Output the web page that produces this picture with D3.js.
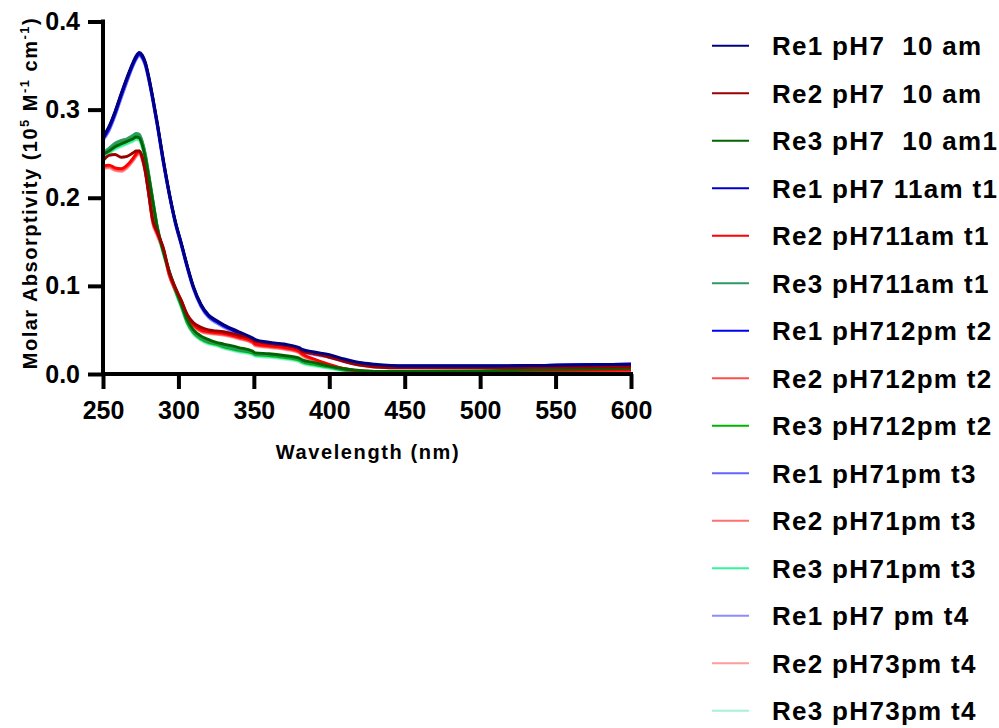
<!DOCTYPE html>
<html>
<head>
<meta charset="utf-8">
<script src="https://cdn.jsdelivr.net/npm/d3@7"></script>
<style>
  html, body { margin: 0; padding: 0; background: #fff; }
  svg { display: block; font-family: "Liberation Sans", Arial, Helvetica, sans-serif; }
</style>
</head>
<body>
<svg id="chart" width="999" height="728"></svg>
<script>
// Wavelength grid (nm)
const wavelengths = [250,254,258,262,266,270,272,274,276,278,280,283,286,290,294,298,302,306,310,315,320,325,330,340,349,351,360,370,380,382,390,400,410,420,430,450,500,550,600];

// Molar absorptivity (10^5 M^-1 cm^-1) for each run
const re1_10am   = [0.269,0.281,0.298,0.318,0.337,0.354,0.361,0.365,0.362,0.354,0.340,0.314,0.285,0.243,0.205,0.173,0.148,0.122,0.099,0.079,0.067,0.061,0.056,0.048,0.041,0.039,0.036,0.034,0.030,0.028,0.025,0.022,0.017,0.013,0.011,0.009,0.009,0.010,0.011];
const re2_10am   = [0.242,0.248,0.249,0.246,0.247,0.251,0.253,0.253,0.246,0.230,0.208,0.175,0.161,0.143,0.115,0.098,0.083,0.067,0.058,0.053,0.050,0.049,0.048,0.044,0.040,0.037,0.035,0.033,0.029,0.026,0.023,0.019,0.014,0.010,0.008,0.007,0.007,0.0075,0.0083];
const re3_10am   = [0.249,0.253,0.258,0.261,0.264,0.267,0.269,0.268,0.260,0.246,0.227,0.196,0.166,0.139,0.116,0.097,0.079,0.061,0.050,0.043,0.039,0.036,0.034,0.030,0.026,0.024,0.023,0.021,0.018,0.016,0.013,0.009,0.006,0.004,0.003,0.003,0.0035,0.005,0.0065];
const re1_11am   = [0.268,0.280,0.297,0.317,0.336,0.353,0.360,0.364,0.361,0.353,0.339,0.313,0.284,0.242,0.204,0.172,0.147,0.121,0.098,0.078,0.066,0.060,0.055,0.047,0.040,0.038,0.035,0.033,0.029,0.027,0.024,0.021,0.016,0.012,0.010,0.009,0.009,0.010,0.011];
const re2_11am   = [0.236,0.237,0.234,0.233,0.237,0.245,0.250,0.253,0.246,0.232,0.210,0.174,0.160,0.142,0.113,0.096,0.083,0.064,0.056,0.050,0.048,0.047,0.046,0.042,0.037,0.034,0.032,0.030,0.026,0.023,0.017,0.011,0.006,0.0035,0.003,0.003,0.003,0.004,0.0045];
const re3_11am   = [0.251,0.256,0.262,0.265,0.267,0.271,0.273,0.272,0.264,0.250,0.230,0.198,0.167,0.140,0.116,0.096,0.078,0.059,0.048,0.041,0.037,0.035,0.032,0.028,0.025,0.023,0.022,0.020,0.017,0.015,0.012,0.0085,0.005,0.003,0.0025,0.0025,0.003,0.0045,0.006];
const re1_12pm   = [0.267,0.279,0.296,0.316,0.335,0.352,0.359,0.363,0.360,0.352,0.338,0.312,0.283,0.241,0.204,0.172,0.147,0.121,0.098,0.078,0.066,0.060,0.055,0.047,0.040,0.038,0.035,0.033,0.029,0.027,0.024,0.021,0.016,0.012,0.010,0.009,0.009,0.010,0.011];
const re2_12pm   = [0.235,0.236,0.233,0.232,0.236,0.244,0.249,0.252,0.245,0.231,0.209,0.173,0.159,0.141,0.112,0.095,0.082,0.063,0.055,0.049,0.047,0.046,0.045,0.041,0.036,0.033,0.031,0.029,0.025,0.022,0.016,0.010,0.006,0.0035,0.003,0.003,0.003,0.004,0.0045];
const re3_12pm   = [0.250,0.255,0.261,0.264,0.266,0.270,0.272,0.271,0.263,0.249,0.229,0.197,0.166,0.139,0.115,0.095,0.077,0.058,0.047,0.040,0.036,0.034,0.031,0.027,0.024,0.022,0.021,0.019,0.016,0.014,0.011,0.008,0.0045,0.0028,0.0025,0.0025,0.003,0.0045,0.006];
const re1_1pm    = [0.266,0.277,0.294,0.314,0.333,0.351,0.358,0.362,0.359,0.351,0.337,0.311,0.282,0.240,0.203,0.171,0.146,0.120,0.097,0.077,0.065,0.059,0.054,0.046,0.039,0.037,0.034,0.032,0.028,0.026,0.023,0.020,0.015,0.011,0.009,0.008,0.008,0.009,0.010];
const re2_1pm    = [0.234,0.235,0.232,0.231,0.235,0.243,0.248,0.251,0.244,0.230,0.208,0.172,0.158,0.140,0.112,0.095,0.081,0.063,0.055,0.049,0.047,0.046,0.045,0.041,0.036,0.033,0.031,0.029,0.025,0.022,0.016,0.010,0.005,0.003,0.0025,0.0025,0.003,0.0035,0.004];
const re3_1pm    = [0.246,0.251,0.256,0.259,0.262,0.265,0.267,0.266,0.258,0.244,0.225,0.194,0.164,0.137,0.114,0.094,0.076,0.057,0.046,0.039,0.035,0.033,0.030,0.026,0.023,0.021,0.020,0.018,0.015,0.013,0.010,0.007,0.004,0.0025,0.002,0.002,0.0025,0.004,0.0055];
const re1_3pm    = [0.265,0.276,0.293,0.313,0.332,0.350,0.357,0.361,0.358,0.350,0.336,0.310,0.281,0.239,0.202,0.170,0.145,0.119,0.096,0.076,0.064,0.058,0.053,0.045,0.038,0.036,0.033,0.031,0.027,0.025,0.022,0.019,0.014,0.010,0.008,0.007,0.007,0.008,0.009];
const re2_3pm    = [0.233,0.234,0.231,0.230,0.234,0.242,0.247,0.250,0.243,0.229,0.207,0.171,0.157,0.139,0.111,0.094,0.080,0.062,0.054,0.048,0.046,0.045,0.044,0.040,0.035,0.032,0.030,0.028,0.024,0.021,0.015,0.009,0.005,0.003,0.0025,0.0025,0.003,0.0035,0.004];
const re3_3pm    = [0.245,0.250,0.255,0.258,0.261,0.264,0.266,0.265,0.257,0.243,0.224,0.193,0.163,0.136,0.113,0.093,0.075,0.056,0.045,0.038,0.034,0.032,0.029,0.025,0.022,0.020,0.019,0.017,0.014,0.012,0.009,0.0065,0.0035,0.002,0.0018,0.0018,0.0025,0.004,0.005];

// Legend labels, in legend order
const seriesNames = [
  "Re1 pH7  10 am", "Re2 pH7  10 am", "Re3 pH7  10 am1",
  "Re1 pH7 11am t1", "Re2 pH711am t1", "Re3 pH711am t1",
  "Re1 pH712pm t2", "Re2 pH712pm t2", "Re3 pH712pm t2",
  "Re1 pH71pm t3", "Re2 pH71pm t3", "Re3 pH71pm t3",
  "Re1 pH7 pm t4", "Re2 pH73pm t4", "Re3 pH73pm t4"
];
const seriesValues = [
  re1_10am, re2_10am, re3_10am,
  re1_11am, re2_11am, re3_11am,
  re1_12pm, re2_12pm, re3_12pm,
  re1_1pm, re2_1pm, re3_1pm,
  re1_3pm, re2_3pm, re3_3pm
];
const seriesColors = [
  "#000080", "#9B0000", "#006400",
  "#0000CC", "#FF0000", "#2E9A66",
  "#0000F0", "#FF4D4D", "#00B400",
  "#6464FF", "#FF7070", "#33F59A",
  "#8C8CFF", "#FF9C9C", "#A8F0D6"
];

const xTicks = [250, 300, 350, 400, 450, 500, 550, 600];
const yTicks = [0.0, 0.1, 0.2, 0.3, 0.4];

const svg = d3.select("#chart");

const x = d3.scaleLinear().domain([250, 600]).range([103, 631]);
const y = d3.scaleLinear().domain([0, 0.4]).range([374, 21.5]);

const series = seriesNames.map((name, i) => ({
  name,
  color: seriesColors[i],
  points: wavelengths.map((w, j) => ({ w, v: seriesValues[i][j] }))
}));

const line = d3.line()
  .x(d => x(d.w))
  .y(d => y(d.v))
  .curve(d3.curveMonotoneX);

// Spectra: later runs underneath, first runs on top
svg.append("g")
  .selectAll("path")
  .data(series.slice().reverse())
  .join("path")
  .attr("d", d => line(d.points))
  .attr("fill", "none")
  .attr("stroke", d => d.color)
  .attr("stroke-width", 2.9)
  .attr("stroke-linejoin", "round");

// Axes
const xAxis = svg.append("g")
  .attr("transform", `translate(0,${y(0)})`)
  .call(d3.axisBottom(x).tickValues(xTicks).tickFormat(d3.format("d"))
    .tickSize(15).tickSizeOuter(0).tickPadding(12));

const yAxis = svg.append("g")
  .attr("transform", `translate(${x(250)},0)`)
  .call(d3.axisLeft(y).tickValues(yTicks).tickFormat(d3.format(".1f"))
    .tickSize(15).tickSizeOuter(0).tickPadding(8));

[xAxis, yAxis].forEach(g => {
  g.select(".domain").attr("stroke", "#000").attr("stroke-width", 4);
  g.selectAll(".tick line").attr("stroke", "#000").attr("stroke-width", 4);
  g.selectAll(".tick text")
    .attr("fill", "#000")
    .style("font-size", "25px")
    .style("font-weight", "bold")
    .style("font-family", "'Liberation Sans', Arial, sans-serif");
});
// Extend domain lines so the corner is squared off
xAxis.select(".domain").attr("d", `M${x(250) - 2},0H${x(600) + 2}`);
yAxis.select(".domain").attr("d", `M0,${y(0) + 2}V${y(0.4) - 2}`);

// Axis titles
svg.append("text")
  .attr("x", 368)
  .attr("y", 459)
  .attr("text-anchor", "middle")
  .style("font-size", "20px")
  .style("font-weight", "bold")
  .style("letter-spacing", "1.6px")
  .text("Wavelength (nm)");

const yTitle = svg.append("text")
  .attr("transform", "translate(37,193) rotate(-90)")
  .attr("text-anchor", "middle")
  .style("font-size", "20px")
  .style("font-weight", "bold")
  .style("letter-spacing", "1.5px");
yTitle.append("tspan").text("Molar Absorptivity (10");
yTitle.append("tspan").attr("dy", -8).style("font-size", "13px").text("5");
yTitle.append("tspan").attr("dy", 8).text(" M");
yTitle.append("tspan").attr("dy", -8).style("font-size", "13px").text("-1");
yTitle.append("tspan").attr("dy", 8).text(" cm");
yTitle.append("tspan").attr("dy", -8).style("font-size", "13px").text("-1");
yTitle.append("tspan").attr("dy", 8).text(")");

// Legend
const legend = svg.append("g")
  .selectAll("g")
  .data(series)
  .join("g")
  .attr("transform", (d, i) => `translate(0,${45.7 + i * 47.5})`);

legend.append("line")
  .attr("x1", 712).attr("x2", 749)
  .attr("y1", 0).attr("y2", 0)
  .attr("stroke", d => d.color)
  .attr("stroke-width", 2);

legend.append("text")
  .attr("x", 772)
  .attr("y", 9.5)
  .style("font-size", "26px")
  .style("font-weight", "bold")
  .style("letter-spacing", "1.3px")
  .style("white-space", "pre")
  .attr("xml:space", "preserve")
  .text(d => d.name);
</script>
</body>
</html>
